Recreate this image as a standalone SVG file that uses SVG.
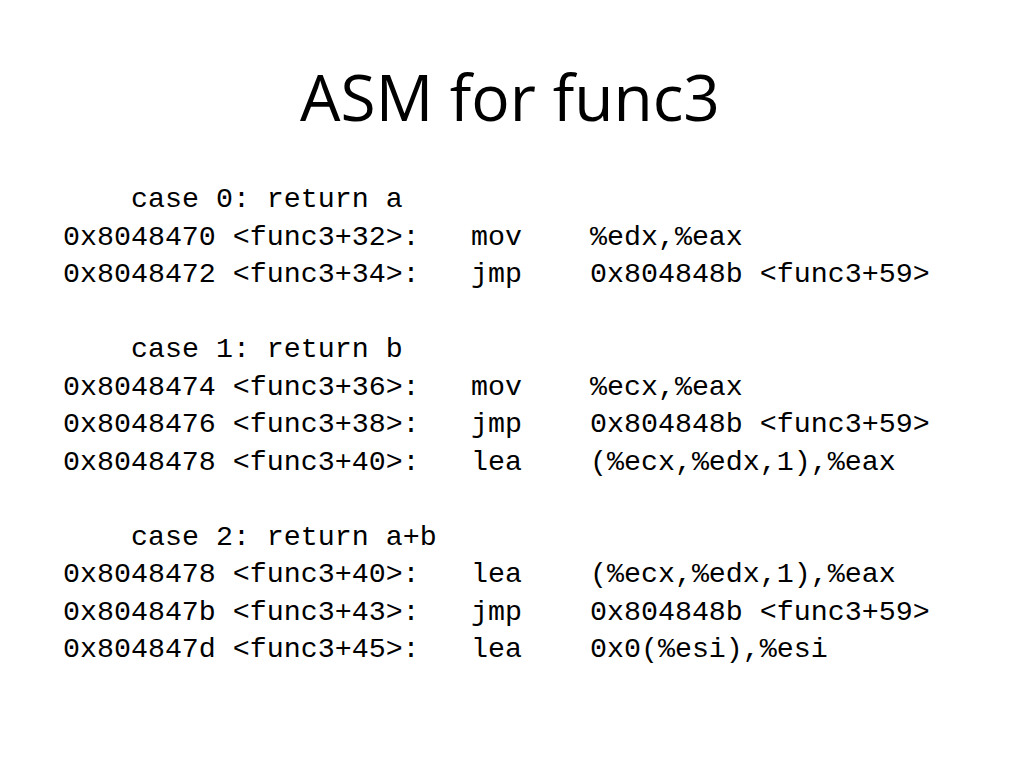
<svg xmlns="http://www.w3.org/2000/svg" width="1024" height="768" viewBox="0 0 1024 768">
<style>
.t{font-family:"Open Sans","Noto Sans",sans-serif;font-size:64px;fill:#000}
.m{font-family:"Liberation Mono","Courier New",monospace;font-size:28.3px;fill:#000}
</style>
<rect width="1024" height="768" fill="#fff"/>
<text class="t" x="510" y="121" text-anchor="middle">ASM for func3</text>
<g class="m">
<text x="131" y="207">case 0: return a</text>
<text y="245"><tspan x="63">0x8048470 &lt;func3+32&gt;:</tspan><tspan x="471">mov</tspan><tspan x="590">%edx,%eax</tspan></text>
<text y="282"><tspan x="63">0x8048472 &lt;func3+34&gt;:</tspan><tspan x="471">jmp</tspan><tspan x="590">0x804848b &lt;func3+59&gt;</tspan></text>
<text x="131" y="357">case 1: return b</text>
<text y="395"><tspan x="63">0x8048474 &lt;func3+36&gt;:</tspan><tspan x="471">mov</tspan><tspan x="590">%ecx,%eax</tspan></text>
<text y="432"><tspan x="63">0x8048476 &lt;func3+38&gt;:</tspan><tspan x="471">jmp</tspan><tspan x="590">0x804848b &lt;func3+59&gt;</tspan></text>
<text y="470"><tspan x="63">0x8048478 &lt;func3+40&gt;:</tspan><tspan x="471">lea</tspan><tspan x="590">(%ecx,%edx,1),%eax</tspan></text>
<text x="131" y="545">case 2: return a+b</text>
<text y="582"><tspan x="63">0x8048478 &lt;func3+40&gt;:</tspan><tspan x="471">lea</tspan><tspan x="590">(%ecx,%edx,1),%eax</tspan></text>
<text y="620"><tspan x="63">0x804847b &lt;func3+43&gt;:</tspan><tspan x="471">jmp</tspan><tspan x="590">0x804848b &lt;func3+59&gt;</tspan></text>
<text y="657"><tspan x="63">0x804847d &lt;func3+45&gt;:</tspan><tspan x="471">lea</tspan><tspan x="590">0x0(%esi),%esi</tspan></text>
</g>
</svg>
